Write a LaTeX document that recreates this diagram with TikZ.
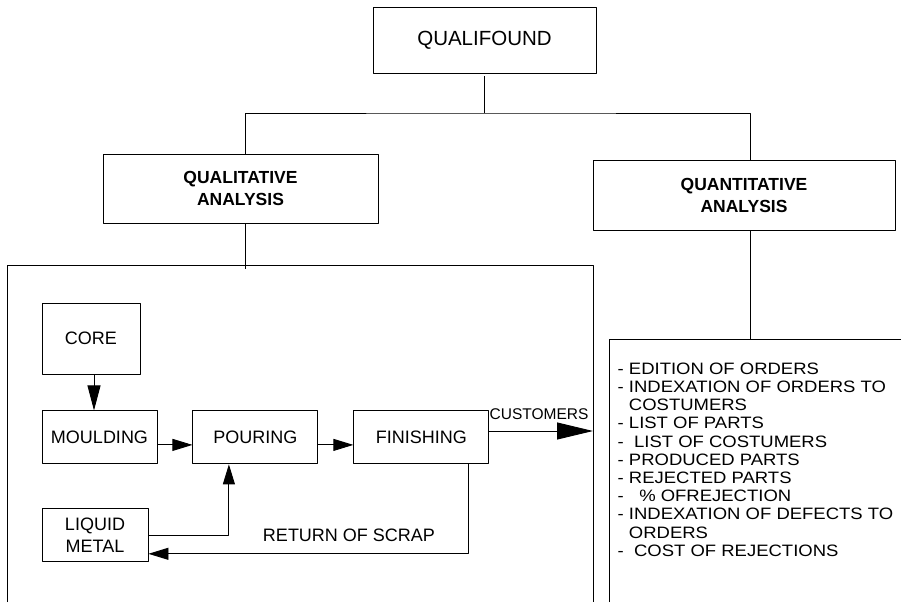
\documentclass[tikz,border=0pt]{standalone}
\usepackage{fontspec}
\setmainfont{Liberation Sans}
\newfontfamily\listfont[FakeStretch=1.12]{Liberation Sans}
\usetikzlibrary{arrows.meta,positioning}

\begin{document}
\begin{tikzpicture}[x=1pt, y=-1pt, line join=round, >={Triangle[length=20pt,width=12pt]}]

		\tikzset{line/.style={line width=.9pt},
			box/.style={draw, line width=.9pt, inner sep=0pt, align=center, font=\fontsize{18}{22}\selectfont},
			head/.style={box, font=\bfseries\fontsize{17.5}{22}\selectfont}}

		\useasboundingbox (0,0) rectangle (901,602);

		\node[box, minimum width=223pt, minimum height=66pt, font=\fontsize{20.5}{24}\selectfont] (qf) at (484.5,40) {QUALIFOUND};
		\node[head, minimum width=275pt, minimum height=69pt] (qual) at (240.5,188.5) {QUALITATIVE\\ANALYSIS};
		\node[head, minimum width=302pt, minimum height=70pt] (quant) at (744,195) {QUANTITATIVE\\ANALYSIS};
		\coordinate (split) at (484.5,113);
		\draw[line] ([yshift=-3pt]qf.south) -- (split);
		\draw[line] ([xshift=5pt]qual.north) |- (split) -| ([xshift=6.7pt]quant.north);

		\draw[line] (7,602) |- (593,265) -- (593,602);
		\draw[line] (609,602) |- (901,339);
		\coordinate (lbox) at (245.5,269);
		\coordinate (rbox) at (750.7,339);
		\draw[line] ([xshift=5pt]qual.south) -- (lbox);
		\draw[line] ([xshift=6.7pt]quant.south) -- (rbox);

		\node[box, minimum width=98pt, minimum height=71pt] (core) at (91,338.5) {CORE};
		\node[box, minimum width=115pt, minimum height=53pt, below=36pt of core.south west, anchor=north west] (mould) {MOULDING};
		\node[box, minimum width=125pt, minimum height=53pt, right=35pt of mould] (pour) {POURING};
		\node[box, minimum width=135pt, minimum height=53pt, right=35pt of pour] (finish) {FINISHING};
		\node[box, minimum width=106pt, minimum height=53pt, below=44pt of mould.south west, anchor=north west] (liquid) {LIQUID\\METAL};

		\draw[line,-{Triangle[length=25pt,width=13pt]}] ([xshift=3pt]core.south) -- ([xshift=3pt]core.south |- mould.north);
		\draw[line,->] ([yshift=-7.5pt]mould.east) -- ([yshift=-7.5pt]mould.east -| pour.west);
		\draw[line,->] ([yshift=-7.5pt]pour.east) -- ([yshift=-7.5pt]pour.east -| finish.west);
		\draw[line,->] (liquid.east) -| ([xshift=-26.5pt]pour.south);
		\draw[line,->] ([xshift=47.5pt]finish.south) |- ([yshift=-18.5pt]liquid.east);
		\node[anchor=base, font=\fontsize{18}{22}\selectfont] (scrap) at (349,541.5) {RETURN OF SCRAP};

		\coordinate (cust) at (593,431);
		\draw[line,-{Triangle[length=36pt,width=17pt]}] (finish.east |- cust) -- (cust);
		\node[anchor=base, inner sep=0pt, font=\fontsize{15.5}{18}\selectfont] (custlbl) at (539,419) {CUSTOMERS};

		\node[anchor=north west, inner sep=0pt, align=left, font=\listfont\fontsize{16.5}{18.2}\selectfont] (qlist) at (617.5,362.5)
		{- EDITION OF ORDERS\\- INDEXATION OF ORDERS TO\\\hphantom{- }COSTUMERS\\- LIST OF PARTS\\- \ LIST OF COSTUMERS\\- PRODUCED PARTS\\- REJECTED PARTS\\- \ \ \% OFREJECTION\\- INDEXATION OF DEFECTS TO\\\hphantom{- }ORDERS\\- \ COST OF REJECTIONS};
		\end{tikzpicture}
\end{document}
